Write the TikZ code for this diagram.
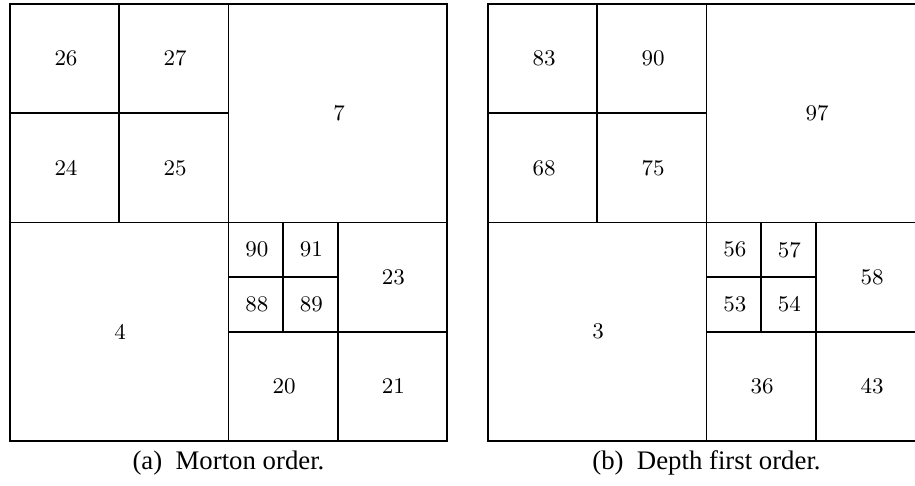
\documentclass[tikz,border=0pt]{standalone}
\usepackage{fontspec}
\newfontfamily\capfont{Liberation Serif}
\begin{document}
\begin{tikzpicture}[x=0.38462pt,y=-0.38462pt,
  cell/.style={draw=black,line width=0.7pt},
  num/.style={font=\fontsize{8.6}{10}\selectfont,inner sep=0pt},
  captext/.style={font=\capfont\fontsize{10.3}{12}\selectfont,inner sep=0pt}]
\useasboundingbox (0,0) rectangle (915,486);
\clip (0,0) rectangle (915,486);

% ---- (a) Morton order ----
\draw[cell] (10,4) rectangle (447,441);
\draw[cell] (228.5,4) -- (228.5,441);
\draw[cell] (10,222.5) -- (447,222.5);
% top-left quadrant split
\draw[cell] (119.25,4) -- (119.25,222.5);
\draw[cell] (10,113.25) -- (228.5,113.25);
% bottom-right quadrant split
\draw[cell] (337.75,222.5) -- (337.75,441);
\draw[cell] (228.5,331.75) -- (447,331.75);
% its top-left child split again
\draw[cell] (283.1,222.5) -- (283.1,331.75);
\draw[cell] (228.5,277.1) -- (337.75,277.1);

\node[num] (a26) at (66,58.6) {26};
\node[num] (a27) at (175,58.6) {27};
\node[num] (a24) at (66,167.9) {24};
\node[num] (a25) at (175,167.9) {25};
\node[num] (a7)  at (339,113.25) {7};
\node[num] (a4)  at (120,331.75) {4};
\node[num] (a90) at (256.8,249.8) {90};
\node[num] (a91) at (311.4,249.8) {91};
\node[num] (a88) at (256.8,304.4) {88};
\node[num] (a89) at (311.4,304.4) {89};
\node[num] (a23) at (393.4,277.1) {23};
\node[num] (a20) at (284.1,386.4) {20};
\node[num] (a21) at (393.4,386.4) {21};
\node[captext] (capa) at (228.5,463) {(a)\ \ Morton order.};

% ---- (b) Depth first order ----
\draw[cell] (488,4) rectangle (925,441);
\draw[cell] (706.5,4) -- (706.5,441);
\draw[cell] (488,222.5) -- (925,222.5);
\draw[cell] (597.25,4) -- (597.25,222.5);
\draw[cell] (488,113.25) -- (706.5,113.25);
\draw[cell] (815.75,222.5) -- (815.75,441);
\draw[cell] (706.5,331.75) -- (925,331.75);
\draw[cell] (761.1,222.5) -- (761.1,331.75);
\draw[cell] (706.5,277.1) -- (815.75,277.1);

\node[num] (b83) at (544,58.6) {83};
\node[num] (b90) at (653,58.6) {90};
\node[num] (b68) at (544,167.9) {68};
\node[num] (b75) at (653,167.9) {75};
\node[num] (b97) at (817,113.25) {97};
\node[num] (b3)  at (598,331.75) {3};
\node[num] (b56) at (734.8,249.8) {56};
\node[num] (b57) at (789.4,249.8) {57};
\node[num] (b53) at (734.8,304.4) {53};
\node[num] (b54) at (789.4,304.4) {54};
\node[num] (b58) at (872,277.1) {58};
\node[num] (b36) at (762.1,386.4) {36};
\node[num] (b43) at (872,386.4) {43};
\node[captext] (capb) at (706.5,463) {(b)\ \ Depth first order.};
\end{tikzpicture}
\end{document}
